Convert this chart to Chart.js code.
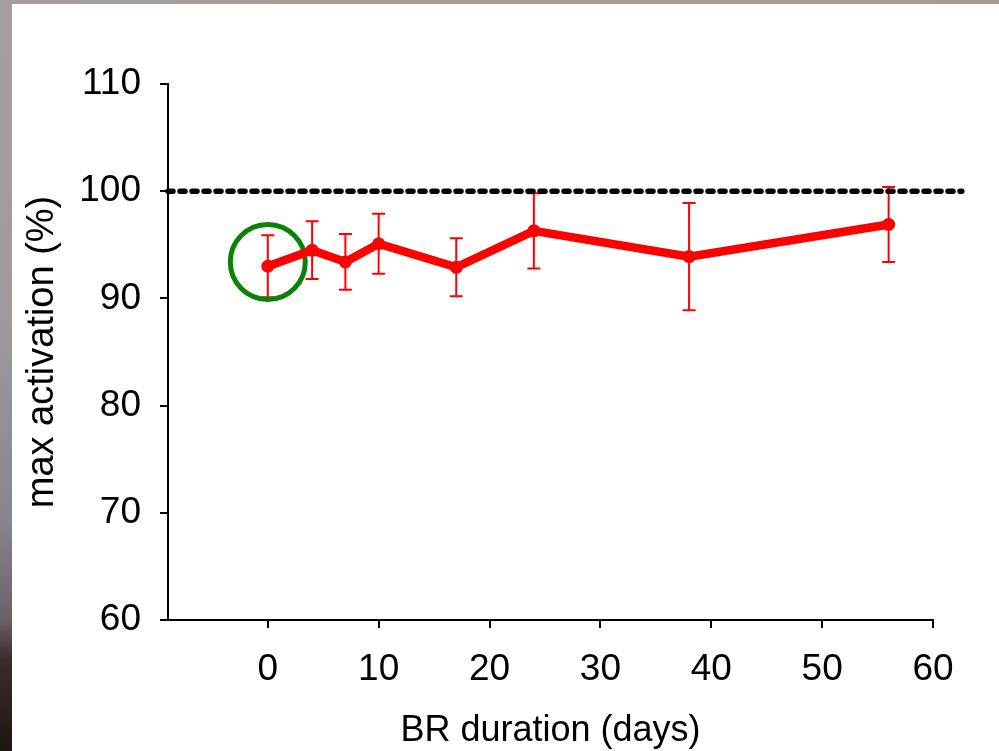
<!DOCTYPE html>
<html>
<head>
<meta charset="utf-8">
<script src="https://cdn.jsdelivr.net/npm/chart.js@4/dist/chart.umd.min.js"></script>
<style>
  html, body { margin: 0; padding: 0; }
  body {
    width: 999px; height: 751px; overflow: hidden; position: relative;
    background: linear-gradient(to bottom, #a59d9f 0px, #a09aa0 300px, #8a8490 520px, #6a6068 620px, #3a2c2a 660px, #1e1614 751px);
  }
  #topstrip { position: absolute; left: 0; top: 0; width: 999px; height: 4px;
    background: linear-gradient(to right, #a69e9e, #a89e9a 60%, #a49a96); }
  #wrap { position: absolute; left: 12px; top: 4px; width: 987px; height: 747px; background: #ffffff; }
  canvas { display: block; }
</style>
</head>
<body>
<div id="topstrip"></div>
<div id="wrap"><canvas id="c" width="987" height="747"></canvas></div>
<script>
// ---- data ----
const days        = [0, 4, 7, 10, 17, 24, 38, 56];
const activation  = [93.0, 94.5, 93.4, 95.1, 92.9, 96.3, 93.9, 96.9];
const errorSize   = [2.9, 2.7, 2.6, 2.8, 2.7, 3.5, 5.0, 3.5];
const referenceLevel = 100;
const referenceSpan  = [-9, 62.6];
const highlightPoint = { x: 0, y: 93.4 };
const xTickValues = [0, 10, 20, 30, 40, 50, 60];
const yTickValues = [60, 70, 80, 90, 100, 110];
const xTitle = 'BR duration (days)';
const yTitle = 'max activation (%)';

const FONT = '"Liberation Sans", Arial, sans-serif';

const errorBars = {
  id: 'errorBars',
  beforeDatasetsDraw(chart) {
    const ctx = chart.ctx;
    const xs = chart.scales.x, ys = chart.scales.y;
    ctx.save();
    ctx.strokeStyle = '#ff0000';
    ctx.lineWidth = 2;
    const cap = 6.5;
    days.forEach((d, i) => {
      const px = xs.getPixelForValue(d);
      const top = ys.getPixelForValue(activation[i] + errorSize[i]);
      const bot = ys.getPixelForValue(activation[i] - errorSize[i]);
      ctx.beginPath();
      ctx.moveTo(px, top); ctx.lineTo(px, bot);
      ctx.moveTo(px - cap, top); ctx.lineTo(px + cap, top);
      ctx.moveTo(px - cap, bot); ctx.lineTo(px + cap, bot);
      ctx.stroke();
    });
    ctx.restore();
  }
};

new Chart(document.getElementById('c'), {
  type: 'line',
  data: {
    datasets: [
      {
        label: 'activation',
        data: days.map((d, i) => ({ x: d, y: activation[i] })),
        borderColor: '#ff0000',
        backgroundColor: '#ff0000',
        borderWidth: 8.5,
        pointRadius: 6.5,
        pointBorderWidth: 0,
        pointBackgroundColor: '#ff0000',
        tension: 0,
        clip: false
      },
      {
        label: 'reference',
        data: referenceSpan.map(x => ({ x: x, y: referenceLevel })),
        borderColor: '#000000',
        borderWidth: 5.5,
        borderDash: [5, 7],
        borderCapStyle: 'round',
        pointRadius: 0,
        clip: false
      },
      {
        label: 'highlight',
        data: [highlightPoint],
        showLine: false,
        pointRadius: 37.5,
        pointBorderWidth: 5,
        pointBorderColor: '#0a820a',
        pointBackgroundColor: 'rgba(0,0,0,0)',
        clip: false
      }
    ]
  },
  plugins: [errorBars],
  options: {
    responsive: false,
    animation: false,
    events: [],
    layout: { padding: { top: 80, right: 66, left: 0, bottom: 0 } },
    plugins: { legend: { display: false }, tooltip: { enabled: false } },
    scales: {
      x: {
        type: 'linear',
        min: -9, max: 60,
        afterBuildTicks: s => { s.ticks = xTickValues.map(v => ({ value: v })); },
        afterFit: s => { s.height = 131; },
        border: { display: true, color: '#000000', width: 2 },
        grid: { display: true, drawOnChartArea: false, drawTicks: true, tickLength: 8, color: '#000000', lineWidth: 2 },
        ticks: { color: '#000000', font: { family: FONT, size: 37 }, padding: 20, maxRotation: 0, autoSkip: false },
        title: { display: true, text: xTitle, color: '#000000', font: { family: FONT, size: 36 }, padding: { top: 0, bottom: -2 } }
      },
      y: {
        type: 'linear',
        min: 60, max: 110,
        afterBuildTicks: s => { s.ticks = yTickValues.map(v => ({ value: v })); },
        afterFit: s => { s.width = 156; },
        border: { display: true, color: '#000000', width: 2 },
        grid: { display: true, drawOnChartArea: false, drawTicks: true, tickLength: 8, color: '#000000', lineWidth: 2 },
        ticks: { color: '#000000', font: { family: FONT, size: 37 }, padding: 19, autoSkip: false },
        title: { display: true, text: yTitle, color: '#000000', font: { family: FONT, size: 38 }, padding: { top: 8, bottom: 0 } }
      }
    }
  }
});
</script>
</body>
</html>
